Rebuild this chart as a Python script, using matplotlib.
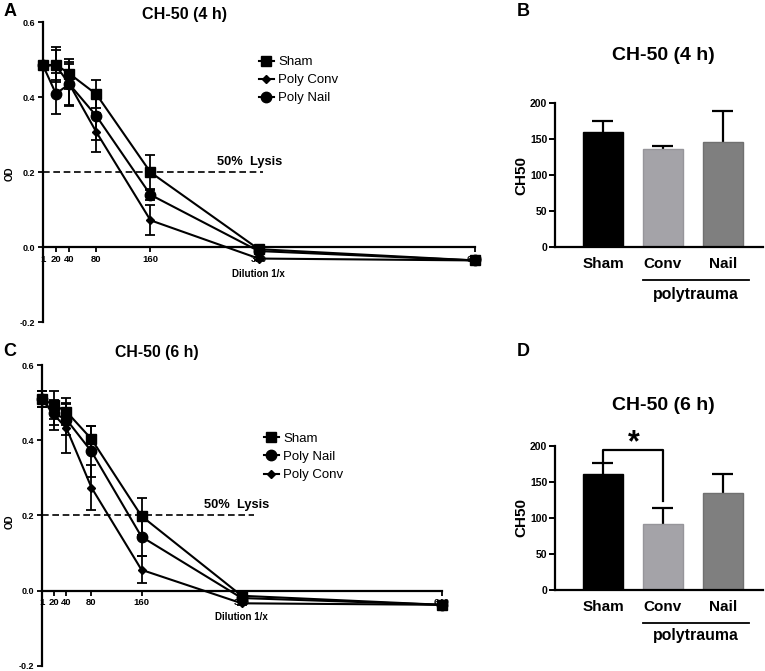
import matplotlib
matplotlib.use("Agg")
import matplotlib.pyplot as plt
from matplotlib.lines import Line2D
import numpy as np

plt.rcParams['font.family'] = ['Liberation Sans', 'DejaVu Sans']

# ---------------- data ----------------
dilutions = [1, 20, 40, 80, 160, 320, 640]
dil_labels = ["1", "20", "40", "80", "160", "320", "640"]

# Panel A (4 h)
a_sham = [0.485, 0.487, 0.463, 0.408, 0.200, -0.005, -0.035]
a_sham_err = [0.0, 0.046, 0.040, 0.037, 0.046, 0.005, 0.003]
a_conv = [0.485, 0.485, 0.435, 0.307, 0.072, -0.030, -0.035]
a_conv_err = [0.0, 0.040, 0.058, 0.052, 0.040, 0.003, 0.003]
a_nail = [0.485, 0.410, 0.435, 0.350, 0.140, -0.010, -0.035]
a_nail_err = [0.0, 0.055, 0.055, 0.065, 0.015, 0.003, 0.003]

# Panel C (6 h)
c_sham = [0.509, 0.494, 0.476, 0.403, 0.198, -0.014, -0.038]
c_sham_err = [0.022, 0.038, 0.036, 0.035, 0.049, 0.005, 0.003]
c_nail = [0.509, 0.471, 0.455, 0.370, 0.143, -0.020, -0.038]
c_nail_err = [0.022, 0.030, 0.040, 0.068, 0.050, 0.005, 0.003]
c_conv = [0.509, 0.468, 0.432, 0.274, 0.055, -0.034, -0.038]
c_conv_err = [0.022, 0.040, 0.067, 0.060, 0.036, 0.004, 0.003]

lysis_level = 0.2

# Bar panels
bar_cats = ["Sham", "Conv", "Nail"]
b_vals = [160, 136, 146]
b_errs = [16, 5, 43]
d_vals = [161, 92, 134]
d_errs = [15, 22, 27]

bar_colors = ["#000000", "#a4a3a8", "#7f7f7f"]
bar_edges = ["#000000", "#96959a", "#707070"]

W, H = 765, 671
fig = plt.figure(figsize=(W / 100, H / 100), dpi=100)


def fx(px):
    return px / W


def fy(py):
    return 1 - py / H


def line_panel(rect, series, lysis_end, lysis_txt_x, legend_anchor):
    ax = fig.add_axes(rect)
    ax.set_xlim(1, 640)
    ax.set_ylim(-0.2, 0.6)
    ax.spines['top'].set_visible(False)
    ax.spines['right'].set_visible(False)
    ax.spines['bottom'].set_position(('data', 0))
    for s in ['left', 'bottom']:
        ax.spines[s].set_linewidth(1.6)
    ax.set_xticks(dilutions)
    ax.set_xticklabels(dil_labels, fontsize=6.8, fontweight='bold')
    ax.set_yticks([-0.2, 0.0, 0.2, 0.4, 0.6])
    ax.set_yticklabels(["-0.2", "0.0", "0.2", "0.4", "0.6"], fontsize=6.5, fontweight='bold')
    ax.tick_params(axis='both', direction='out', length=3.5, width=1.3, pad=2)
    handles = []
    for name, y, err, mk, ms in series:
        ax.errorbar(dilutions, y, yerr=err, color='black', marker=mk, markersize=ms,
                    lw=1.5, capsize=3.7, capthick=1.3, elinewidth=1.3,
                    clip_on=False, zorder=3)
        handles.append(Line2D([], [], color='black', marker=mk, markersize=ms, lw=1.5))
    ax.plot([1, lysis_end], [lysis_level, lysis_level], color='black', lw=1.2,
            ls=(0, (4, 2.2)), zorder=2)
    ax.text(lysis_txt_x, 0.227, "50%  Lysis", fontsize=9.3, fontweight='bold',
            ha='center', va='center')
    ax.text(320, -0.071, "Dilution 1/x", fontsize=7, fontweight='bold',
            ha='center', va='center')
    ax.legend(handles, [s[0] for s in series], loc='upper left',
              bbox_to_anchor=legend_anchor, frameon=False,
              fontsize=9.5, handlelength=1.1, handletextpad=0.35,
              labelspacing=0.45, borderaxespad=0, borderpad=0)
    return ax


# Panel A
axA = line_panel([fx(43), fy(322.3), (475 - 43) / W, 300 / H],
                 [("Sham", a_sham, a_sham_err, 's', 7),
                  ("Poly Conv", a_conv, a_conv_err, 'D', 4.5),
                  ("Poly Nail", a_nail, a_nail_err, 'o', 7.5)],
                 326, 307, (0.5, 0.888))

# Panel C
axC = line_panel([fx(42), fy(665.7), (442 - 42) / W, 300.7 / H],
                 [("Sham", c_sham, c_sham_err, 's', 7),
                  ("Poly Nail", c_nail, c_nail_err, 'o', 7.5),
                  ("Poly Conv", c_conv, c_conv_err, 'D', 4.5)],
                 340, 312, (0.555, 0.775))


def bar_panel(rect, vals, errs, line_y, text_y):
    ax = fig.add_axes(rect)
    x = np.arange(len(bar_cats))
    vals = np.asarray(vals, float)
    errs = np.asarray(errs, float)
    ax.bar(x, vals, width=0.667, color=bar_colors, edgecolor=bar_edges, linewidth=1, zorder=2)
    ax.vlines(x, vals, vals + errs, color='black', lw=1.6, zorder=1)
    ax.hlines(vals + errs, x - 0.175, x + 0.175, color='black', lw=1.6, zorder=1)
    ax.set_xlim(-0.8, 2.667)
    ax.set_ylim(0, 200)
    ax.spines['top'].set_visible(False)
    ax.spines['right'].set_visible(False)
    for s in ['left', 'bottom']:
        ax.spines[s].set_linewidth(1.6)
    ax.set_yticks([0, 50, 100, 150, 200])
    ax.set_yticklabels(["0", "50", "100", "150", "200"], fontsize=7.5, fontweight='bold')
    ax.tick_params(axis='y', direction='out', length=4, width=1.4, pad=1.5)
    ax.set_xticks(x)
    ax.set_xticklabels(bar_cats, fontsize=11, fontweight='bold')
    ax.tick_params(axis='x', length=0, pad=7)
    ax.set_ylabel("CH50", fontsize=11, fontweight='bold', labelpad=1.5)
    ax.plot([0.67, 2.43], [line_y, line_y], color='black', lw=1.3, clip_on=False)
    ax.text(1.55, text_y, "polytrauma", fontsize=11.4, fontweight='bold',
            ha='center', va='center')
    return ax


axB = bar_panel([fx(555), fy(247.3), 208 / W, 144 / H], b_vals, b_errs, -45.4, -66)
axD = bar_panel([fx(555), fy(590), 208 / W, 144.3 / H], d_vals, d_errs, -45.7, -63)

# significance bracket in D
axD.plot([0, 0, 1, 1], [176, 194, 194, 124], color='black', lw=1.6, clip_on=False)
axD.text(0.52, 204, "*", fontsize=22, fontweight='bold', ha='center', va='center')

# titles
fig.text(fx(184), fy(15), "CH-50 (4 h)", fontsize=11.6, fontweight='bold', ha='center', va='center')
fig.text(fx(157), fy(353), "CH-50 (6 h)", fontsize=11.4, fontweight='bold', ha='center', va='center')
fig.text(fx(663), fy(55), "CH-50 (4 h)", fontsize=14, fontweight='bold', ha='center', va='center')
fig.text(fx(663), fy(406), "CH-50 (6 h)", fontsize=14, fontweight='bold', ha='center', va='center')

# OD labels
fig.text(fx(10), fy(174), "OD", fontsize=7, fontweight='bold', rotation=90, ha='center', va='center')
fig.text(fx(10), fy(522), "OD", fontsize=7, fontweight='bold', rotation=90, ha='center', va='center')

# panel letters
for lt, (px, py) in {"A": (10, 12), "B": (523, 12), "C": (10, 352), "D": (523, 352)}.items():
    fig.text(fx(px), fy(py), lt, fontsize=13, fontweight='bold', ha='center', va='center')

fig.savefig("out.png", dpi=100)
